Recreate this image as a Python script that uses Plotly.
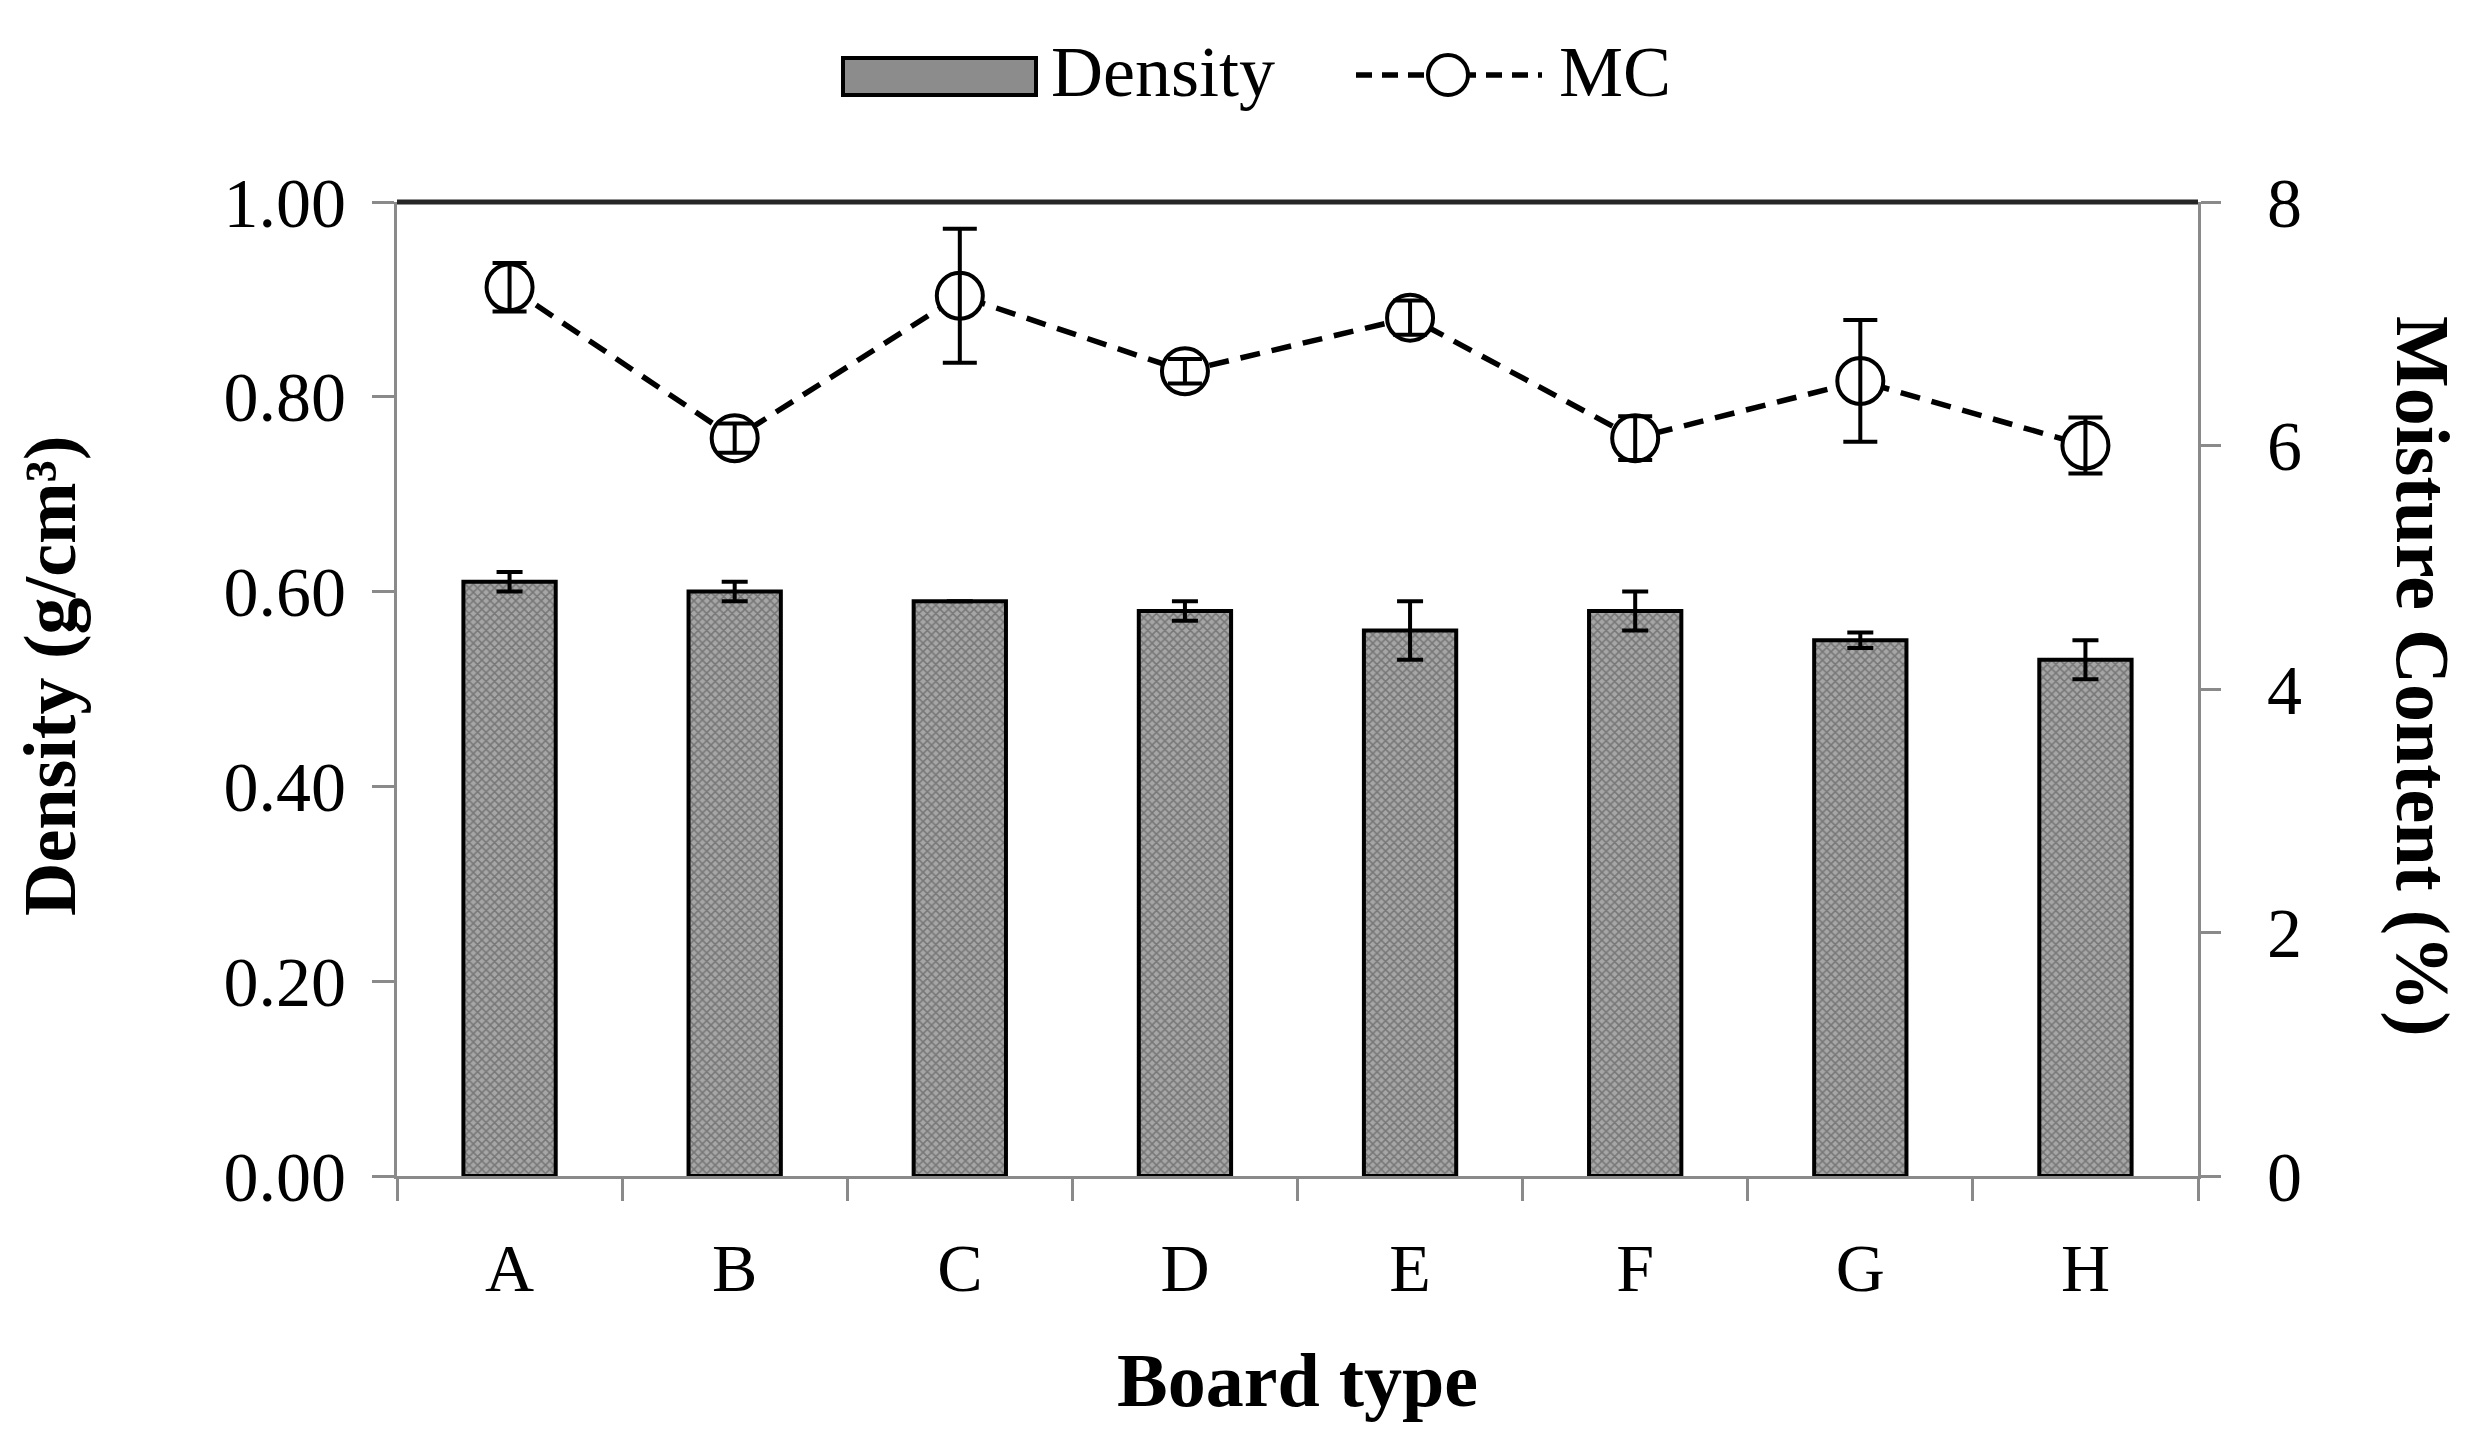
import plotly.graph_objects as go

board_types = ["A", "B", "C", "D", "E", "F", "G", "H"]
density = [0.61, 0.60, 0.59, 0.58, 0.56, 0.58, 0.55, 0.53]
density_err = [0.01, 0.01, 0.0, 0.01, 0.03, 0.02, 0.008, 0.02]
mc = [7.30, 6.06, 7.23, 6.61, 7.05, 6.06, 6.53, 6.00]
mc_err = [0.2, 0.12, 0.55, 0.1, 0.14, 0.18, 0.5, 0.23]

# page body has an 8px margin: work in picture coordinates, shift by OFF
OFF = 8
W, H = 2481 - 2 * OFF, 1453 - 2 * OFF
L, R, T, B = 397 - OFF, 2198 - OFF, 202 - OFF, 1176 - OFF
FONT = "Liberation Serif"

fig = go.Figure()

fig.add_trace(go.Bar(
    x=board_types, y=density, width=0.41, name="Density",
    marker=dict(color="#8c8c8c", line=dict(color="black", width=4),
                pattern=dict(shape="x", fgcolor="#484848", bgcolor="#a6a6a6",
                             size=6, solidity=0.45)),
    error_y=dict(type="data", array=density_err, color="black",
                 thickness=4, width=13),
    showlegend=False,
))

fig.add_trace(go.Scatter(
    x=board_types, y=mc, yaxis="y2", mode="lines+markers", name="MC",
    line=dict(color="black", width=5.5, dash="20px,12px"),
    marker=dict(symbol="circle", size=46, color="white",
                line=dict(color="black", width=4)),
    showlegend=False,
))
fig.add_trace(go.Scatter(
    x=board_types, y=mc, yaxis="y2", mode="markers",
    marker=dict(size=1, color="rgba(0,0,0,0)"),
    error_y=dict(type="data", array=mc_err, color="black",
                 thickness=4, width=17),
    showlegend=False, hoverinfo="skip",
))

def px(x):
    return (x - OFF - L) / (R - L)

def py(y):
    return (B - (y - OFF)) / (B - T)

shapes = [
    # top border of plot area
    dict(type="line", xref="paper", yref="paper", x0=0, x1=1, y0=1, y1=1,
         line=dict(color="#262626", width=5)),
    # legend: density swatch
    dict(type="rect", xref="paper", yref="paper",
         x0=px(843), x1=px(1036), y0=py(95), y1=py(58),
         fillcolor="#8c8c8c", line=dict(color="black", width=4)),
    # legend: MC dashed line
    dict(type="line", xref="paper", yref="paper",
         x0=px(1356), x1=px(1542), y0=py(75), y1=py(75),
         line=dict(color="black", width=5.5, dash="16px,10px")),
    dict(type="circle", xref="paper", yref="paper",
         x0=px(1448 - 20), x1=px(1448 + 20), y0=py(75 + 20), y1=py(75 - 20),
         fillcolor="white", line=dict(color="black", width=4)),
]

annotations = [
    dict(text="Density", xref="paper", yref="paper", x=px(1049), y=py(72),
         xanchor="left", yanchor="middle", showarrow=False,
         font=dict(family=FONT, size=72, color="black")),
    dict(text="MC", xref="paper", yref="paper", x=px(1557), y=py(72),
         xanchor="left", yanchor="middle", showarrow=False,
         font=dict(family=FONT, size=72, color="black")),
    dict(text="<b>Density (g/cm³)</b>", xref="paper", yref="paper",
         x=px(50), y=py(676), xanchor="center", yanchor="middle", textangle=-90,
         showarrow=False, borderpad=0,
         font=dict(family=FONT, size=74, color="black")),
    dict(text="<b>Moisture Content (%)</b>", xref="paper", yref="paper",
         x=px(2423), y=py(676), xanchor="center", yanchor="middle", textangle=90,
         showarrow=False, font=dict(family=FONT, size=76, color="black")),
    dict(text="<b>Board type</b>", xref="paper", yref="paper",
         x=0.5, y=py(1380), xanchor="center", yanchor="middle",
         showarrow=False, font=dict(family=FONT, size=76, color="black")),
]

fig.update_layout(
    width=W, height=H,
    margin=dict(l=L, r=W - R, t=T, b=H - B, pad=0),
    paper_bgcolor="white", plot_bgcolor="white",
    font=dict(family=FONT, color="black", size=68),
    showlegend=False,
    xaxis=dict(
        type="category", range=[-0.5, 7.5], showline=True,
        linecolor="#8a8a8a", linewidth=3,
        ticks="outside", tickson="boundaries", ticklen=22, tickwidth=3,
        tickcolor="#8a8a8a", tickfont=dict(family=FONT, size=68, color="black"),
        ticklabelstandoff=30, showgrid=False, zeroline=False,
    ),
    yaxis=dict(
        range=[0, 1], dtick=0.2, tickformat=".2f", showline=True,
        linecolor="#8a8a8a", linewidth=3, ticks="outside", ticklen=22,
        tickwidth=3, tickcolor="#8a8a8a", showgrid=False, zeroline=False,
        tickfont=dict(family=FONT, size=70, color="black"),
        ticklabelstandoff=12,
    ),
    yaxis2=dict(
        range=[0, 8], dtick=2, overlaying="y", side="right", showline=True,
        linecolor="#8a8a8a", linewidth=3, ticks="outside", ticklen=20,
        tickwidth=3, tickcolor="#8a8a8a", showgrid=False, zeroline=False,
        tickfont=dict(family=FONT, size=70, color="black"),
        ticklabelstandoff=32,
    ),
    shapes=shapes,
    annotations=annotations,
)

fig.write_html("out.html")
